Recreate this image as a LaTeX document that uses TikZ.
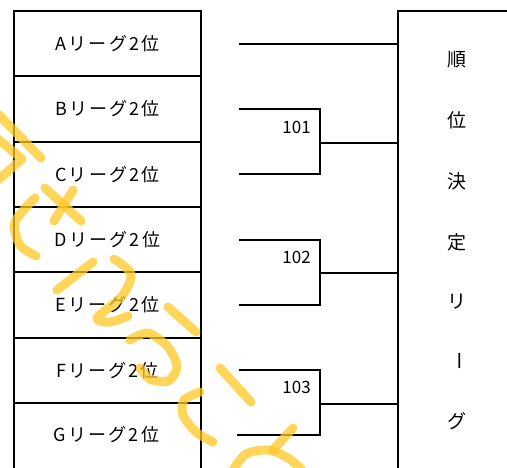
\documentclass[tikz,border=0pt]{standalone}
\usepackage{fontspec}
\setmainfont{Noto Sans CJK JP}
\definecolor{marker}{RGB}{255,200,35}
\begin{document}
\begin{tikzpicture}[x=1pt,y=-1pt,
  frame/.style={draw=black,line width=2pt,inner sep=0pt,anchor=north west},
  lab/.style={font=\fontsize{18}{20}\selectfont\addfontfeatures{LetterSpace=12},inner sep=0pt},
  num/.style={font=\fontsize{17}{19}\selectfont,inner sep=0pt,anchor=east},
  vch/.style={font=\fontsize{19}{21}\selectfont,inner sep=0pt},
  wire/.style={draw=black,line width=2pt},
  ink/.style={draw=marker,line width=9pt,line cap=round,line join=round,opacity=0.75}]
\useasboundingbox (0,0) rectangle (507,467);

% left column
\node[frame,minimum width=187pt,minimum height=65.33pt] (boxA) at (13,10) {};
\node[frame,minimum width=187pt,minimum height=65.33pt] (boxB) at (13,75.33) {};
\node[frame,minimum width=187pt,minimum height=65.33pt] (boxC) at (13,140.67) {};
\node[frame,minimum width=187pt,minimum height=65.33pt] (boxD) at (13,206) {};
\node[frame,minimum width=187pt,minimum height=65.33pt] (boxE) at (13,271.33) {};
\node[frame,minimum width=187pt,minimum height=65.33pt] (boxF) at (13,336.67) {};
\node[frame,minimum width=187pt,minimum height=80pt] (boxG) at (13,402) {};

\node[lab] (txtA) at (boxA) {Aリーグ2位};
\node[lab] (txtB) at (boxB) {Bリーグ2位};
\node[lab] (txtC) at (boxC) {Cリーグ2位};
\node[lab] (txtD) at (boxD) {Dリーグ2位};
\node[lab] (txtE) at (boxE) {Eリーグ2位};
\node[lab] (txtF) at (boxF) {Fリーグ2位};
\node[lab] (txtG) at (106.5,434.7) {Gリーグ2位};

% right box
\node[frame,minimum width=130pt,minimum height=480pt] (rank) at (397,10) {};
\node[vch] (r1) at (457,60) {順};
\node[vch] (r2) at (457,120) {位};
\node[vch] (r3) at (457,181) {決};
\node[vch] (r4) at (457,242) {定};
\node[vch] (r5) at (457,302) {リ};
\node[vch,rotate=-90] (r6) at (457,361) {ー};
\node[vch] (r7) at (457,421) {グ};

% connector start points
\coordinate (inA) at ([xshift=37pt]boxA.east);
\coordinate (inB) at ([xshift=37pt]boxB.east);
\coordinate (inC) at ([xshift=37pt]boxC.east);
\coordinate (inD) at ([xshift=37pt]boxD.east);
\coordinate (inE) at ([xshift=37pt]boxE.east);
\coordinate (inF) at ([xshift=37pt]boxF.east);
\coordinate (inG) at (237,434.7);
\coordinate (m1) at ([xshift=118pt]boxB.south east);
\coordinate (m2) at ([xshift=118pt]boxD.south east);
\coordinate (m3) at ([xshift=118pt]boxF.south east);

\draw[wire] (inA) -- (inA -| rank.west);
\draw[wire] (inB) -| (m1) |- (inC);
\draw[wire] (m1) -- (m1 -| rank.west);
\draw[wire] (inD) -| (m2) |- (inE);
\draw[wire] (m2) -- (m2 -| rank.west);
\draw[wire] (inF) -| (m3) |- (inG);
\draw[wire] (m3) -- (m3 -| rank.west);

\node[num] (n101) at (311,127.5) {101};
\node[num] (n102) at (311,257) {102};
\node[num] (n103) at (311,387) {103};

% yellow hand-drawn marks
\draw[ink] (-2,114) -- (41,158);
\draw[ink] (-2,139) -- (22,159) -- (-2,180);
\draw[ink] (45,188) -- (81,221);
\draw[ink] (73,190) -- (54,221);
\draw[ink] plot[smooth] coordinates {(35,198) (15,222) (20,245) (36,256)};
\draw[ink] (57,290) -- (93,262);
\draw[ink] plot[smooth] coordinates {(114,259) (131,274) (122,296) (97,318) (110,322) (128,316)};
\draw[ink] (168,307) -- (196,332);
\draw[ink] plot[smooth] coordinates {(130,340) (148,333) (168,347) (177,367) (168,381) (150,379) (140,368)};
\draw[ink] plot[smooth] coordinates {(200,392) (184,400) (183,415) (196,432) (213,442)};
\draw[ink] (220,368) -- (251,402);
\draw[ink] (293,428) -- (273,450);
\draw[ink] plot[smooth] coordinates {(233,470) (246,454) (268,450) (288,458) (302,470)};
\end{tikzpicture}
\end{document}
